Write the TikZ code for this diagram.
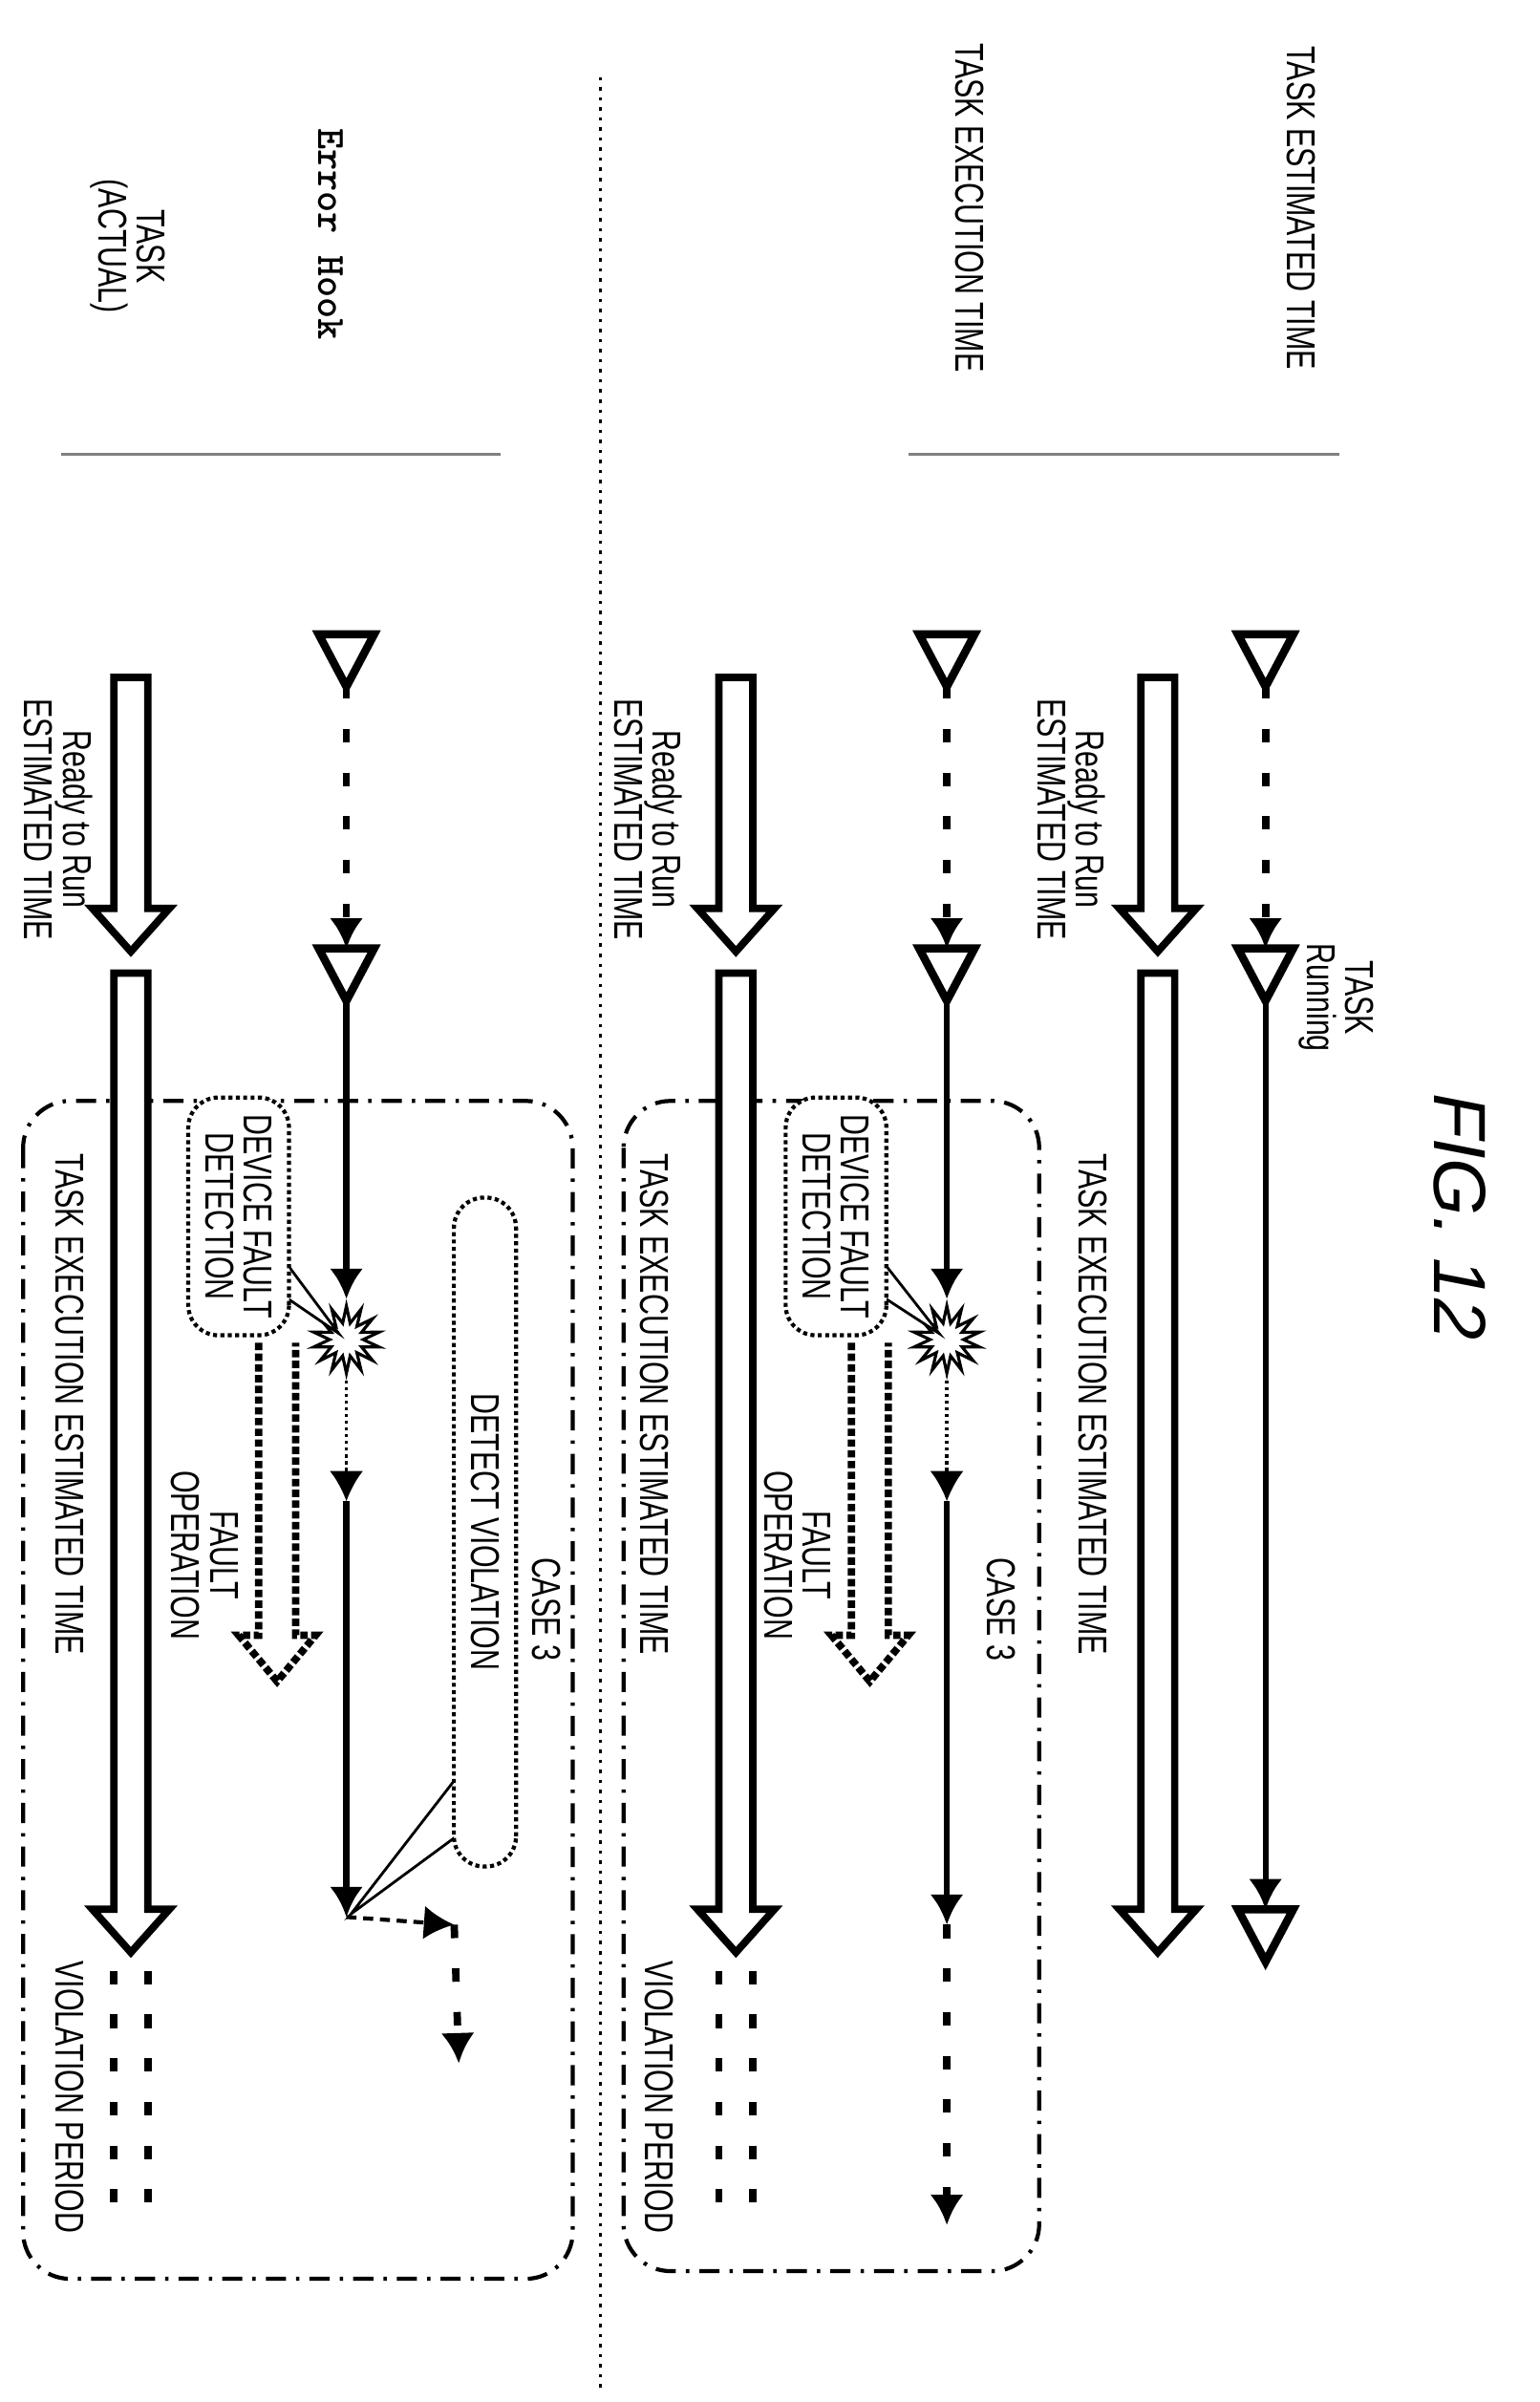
\documentclass[tikz,border=0pt]{standalone}
\usepackage{fontspec}
\setmainfont{Liberation Sans}
\newfontfamily\condfont[FakeStretch=0.72]{Liberation Sans}
\usetikzlibrary{arrows.meta,shapes.geometric}
\tikzset{
  lbl/.style={rotate=-90, font=\condfont\fontsize{12}{11.5}\selectfont, align=center, inner sep=0pt},
  tline/.style={line width=1.8pt},
  wait/.style={line width=2.2pt, dash pattern=on 4pt off 9pt},
  hint/.style={line width=1pt, densely dotted},
  tip/.style={-{Latex[length=9pt,width=10pt]}},
  hol/.style={line width=2.2pt, fill=white, line join=miter},
  opentri/.style={line width=2.4pt, fill=white},
  callout/.style={draw, line width=1.2pt, densely dotted, rounded corners=9pt, fill=white, rotate=-90,
    font=\condfont\fontsize{12}{11.5}\selectfont, align=center, inner sep=5pt},
  casebox/.style={line width=1.2pt, dash pattern=on 6pt off 3pt on 1pt off 3pt, rounded corners=14pt},
  burst/.style={star, star points=14, star point ratio=2, minimum size=20pt, draw, fill=white, line width=0.9pt, inner sep=0pt}
}
% hollow arrow: x, start y, tip y
\newcommand{\holarrow}[3]{\draw[hol] (#1-11,#2) -- (#1-11,#3-28) -- (#1-25,#3-28) -- (#1,#3) -- (#1+25,#3-28) -- (#1+11,#3-28) -- (#1+11,#2) -- cycle;}
% open triangle pointing down: x, top y
\newcommand{\otri}[2]{\draw[opentri] (#1-18,#2) -- (#1+18,#2) -- (#1,#2+34) -- cycle;}
\begin{document}
\begin{tikzpicture}[x=0.01611cm, y=-0.01611cm]
  \useasboundingbox (0,0) rectangle (1000,1560);
  % title and headers
  \node[rotate=-90, font=\itshape\fontsize{22}{24}\selectfont] (fig) at (948,790) {FIG. 12};
  \node[lbl] (hdrest) at (845,135) {TASK ESTIMATED TIME};
  \node[lbl] (hdrexe) at (630,135) {TASK EXECUTION TIME};
  \node[lbl, font=\ttfamily\bfseries\fontsize{12}{13}\selectfont] (hdrhook) at (215,152) {Error Hook};
  \node[lbl] (hdract) at (83,160) {TASK\\(ACTUAL)};
  \draw[gray, line width=0.8pt] (590,295) -- (870,295);
  \draw[gray, line width=0.8pt] (40,295) -- (325,295);
  \draw[line width=1pt, dotted] (390,50) -- (390,1555);

  % ---- task estimated time
  \coordinate (ea) at (822,445);
  \coordinate (eb) at (822,616);
  \coordinate (ec) at (822,650);
  \coordinate (ed) at (822,1240);
  \draw[wait, tip] (ea) -- (eb);
  \draw[tline, tip] (ec) -- (ed);
  \otri{822}{412}
  \otri{822}{616}
  \otri{822}{1240}
  \node[lbl] (run) at (868,648) {TASK\\Running};
  \holarrow{752}{440}{618}
  \holarrow{752}{632}{1268}
  \node[lbl] (rdyA) at (696,532) {Ready to Run\\ESTIMATED TIME};
  \node[lbl] (exeA) at (710,912) {TASK EXECUTION ESTIMATED TIME};

  % ---- task execution time
  \draw[casebox] (405,715) rectangle (675,1475);
  \coordinate (xa) at (615,445);
  \coordinate (xb) at (615,616);
  \coordinate (xc) at (615,650);
  \coordinate (xe) at (615,975);
  \coordinate (xf) at (615,1250);
  \coordinate (xg) at (615,1445);
  \draw[wait, tip] (xa) -- (xb);
  \node[burst] (xstar) at (615,870) {};
  \draw[tline, tip] (xc) -- (xstar.north);
  \draw[hint, tip] (xstar.south) -- (xe);
  \draw[tline, tip] (xe) -- (xf);
  \draw[wait, tip] (xf) -- (xg);
  \otri{615}{412}
  \otri{615}{616}
  \draw[hol, densely dotted] (553,872) -- (553,1062) -- (540,1062) -- (565,1092) -- (590,1062) -- (577,1062) -- (577,872);
  \node[lbl] (fltB) at (518,1010) {FAULT\\OPERATION};
  \fill[white] (570,815) -- (610,866) -- (570,840) -- cycle;
  \draw[line width=0.8pt] (570,815) -- (610,866) -- (570,840);
  \node[callout] (devB) at (543,790) {DEVICE FAULT\\DETECTION};
  \holarrow{478}{440}{618}
  \holarrow{478}{632}{1268}
  \draw[wait] (467,1280) -- (467,1445);
  \draw[wait] (489,1280) -- (489,1445);
  \node[lbl] (rdyB) at (421,532) {Ready to Run\\ESTIMATED TIME};
  \node[lbl] (exeB) at (425,912) {TASK EXECUTION ESTIMATED TIME};
  \node[lbl] (vioB) at (428,1362) {VIOLATION PERIOD};
  \node[lbl] (caseB) at (650,1045) {CASE 3};

  % ---- error hook / actual
  \draw[casebox] (15,715) rectangle (372,1480);
  \coordinate (ha) at (225,445);
  \coordinate (hb) at (225,616);
  \coordinate (hc) at (225,650);
  \coordinate (he) at (225,975);
  \coordinate (hf) at (225,1245);
  \coordinate (hg) at (295,1250);
  \coordinate (hh) at (298,1340);
  \draw[wait, tip] (ha) -- (hb);
  \node[burst] (hstar) at (225,870) {};
  \draw[tline, tip] (hc) -- (hstar.north);
  \draw[hint, tip] (hstar.south) -- (he);
  \draw[tline, tip] (he) -- (hf);
  \draw[line width=1.2pt, densely dashed, tip] (hf) -- (hg);
  \draw[wait, tip] (hg) -- (hh);
  \otri{225}{412}
  \otri{225}{616}
  \draw[hol, densely dotted] (168,872) -- (168,1062) -- (155,1062) -- (180,1092) -- (205,1062) -- (192,1062) -- (192,872);
  \node[lbl] (fltC) at (133,1010) {FAULT\\OPERATION};
  \fill[white] (182,815) -- (220,866) -- (182,840) -- cycle;
  \draw[line width=0.8pt] (182,815) -- (220,866) -- (182,840);
  \node[callout] (devC) at (155,790) {DEVICE FAULT\\DETECTION};
  \fill[white] (300,1150) -- (228,1243) -- (300,1190) -- cycle;
  \draw[line width=0.8pt] (300,1150) -- (228,1243) -- (300,1190);
  \node[callout, minimum width=7cm] (detC) at (315,995) {DETECT VIOLATION};
  \holarrow{85}{440}{618}
  \holarrow{85}{632}{1268}
  \draw[wait] (74,1280) -- (74,1445);
  \draw[wait] (96,1280) -- (96,1445);
  \node[lbl] (rdyC) at (38,532) {Ready to Run\\ESTIMATED TIME};
  \node[lbl] (exeC) at (45,912) {TASK EXECUTION ESTIMATED TIME};
  \node[lbl] (vioC) at (45,1362) {VIOLATION PERIOD};
  \node[lbl] (caseC) at (355,1045) {CASE 3};
\end{tikzpicture}
\end{document}
